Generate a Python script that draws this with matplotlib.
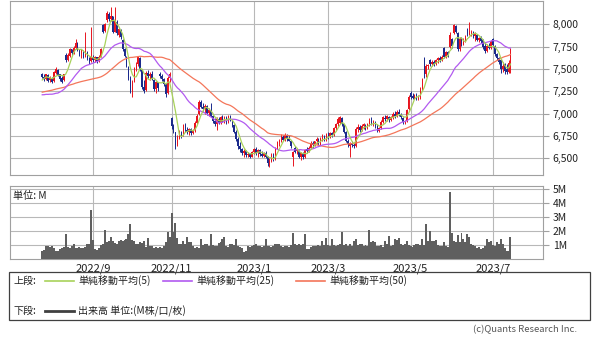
import matplotlib
matplotlib.use('Agg')
import matplotlib.pyplot as plt
import numpy as np
import pandas as pd
from matplotlib.patches import Rectangle

plt.rcParams['font.family'] = ['Noto Sans CJK JP', 'DejaVu Sans']

# trading calendar (TSE holidays in the period)
holidays = ['2022-08-11', '2022-09-19', '2022-09-23', '2022-10-10', '2022-11-03',
            '2022-11-23', '2023-01-02', '2023-01-03', '2023-01-09', '2023-02-23',
            '2023-03-21', '2023-05-03', '2023-05-04', '2023-05-05']
tick_months = [(2022, 9), (2022, 11), (2023, 1), (2023, 3), (2023, 5), (2023, 7)]

# closes before the visible window, only used so the moving averages start where they do
warmup_close = [
    7150, 7180, 7160, 7200, 7170, 7140, 7190, 7160, 7180, 7150, 7200, 7170, 7160,
    7350, 7380, 7400, 7370, 7390, 7360, 7410, 7380, 7370, 7400, 7390, 7360,
    7370, 7340, 7380, 7350, 7360, 7370, 7340, 7370,
    7100, 7060, 7020, 7040, 7000, 7030, 7060, 7020, 7050, 7070, 7040, 7050,
    7300, 7350, 7400, 7430,
]

opens = [
    7440, 7410, 7390, 7430, 7380, 7400, 7370, 7460, 7490, 7440,
    7400, 7380, 7660, 7600, 7650, 7720, 7690, 7740, 7790, 7710,
    7670, 7700, 7640, 7690, 7620, 7590, 7640, 7600, 7630, 7590,
    7640, 7990, 7930, 8050, 8120, 8060, 8090, 7920, 8030, 7880,
    7940, 7830, 7720, 7630, 7520, 7400, 7240, 7360, 7500, 7560,
    7620, 7490, 7300, 7270, 7460, 7420, 7450, 7380, 7280, 7350,
    7450, 7420, 7390, 7330, 7230, 7400, 6950, 6860, 6790, 6660,
    6740, 6790, 6760, 6870, 6820, 6790, 6830, 6780, 6820, 6900,
    7000, 7130, 7080, 7050, 7090, 7010, 7040, 6980, 6920, 6880,
    6940, 6900, 6960, 6930, 6950, 6910, 6970, 6930, 6870, 6800,
    6720, 6640, 6600, 6560, 6580, 6540, 6550, 6520, 6570, 6600,
    6560, 6590, 6550, 6530, 6560, 6520, 6450, 6470, 6540, 6490,
    6610, 6680, 6700, 6740, 6710, 6760, 6720, 6700, 6510, 6620,
    6580, 6580, 6520, 6550, 6510, 6600, 6580, 6620, 6670, 6650,
    6690, 6720, 6660, 6720, 6750, 6710, 6760, 6740, 6780, 6760,
    6840, 6880, 6900, 6950, 6880, 6800, 6700, 6640, 6670, 6650,
    6640, 6830, 6850, 6820, 6860, 6870, 6840, 6880, 6920, 6890,
    6910, 6860, 6810, 6840, 6910, 6950, 6940, 6960, 6930, 6960,
    7000, 6970, 7020, 7000, 6950, 6910, 6920, 7050, 7230, 7200,
    7180, 7210, 7170, 7200, 7280, 7620, 7440, 7530, 7600, 7560,
    7580, 7560, 7600, 7620, 7600, 7740, 7640, 7690, 7750, 7840,
    7900, 7980, 7900, 7720, 7840, 7780, 7830, 7950, 7890, 7880,
    7920, 7870, 7880, 7830, 7850, 7830, 7760, 7700, 7760, 7740,
    7840, 7760, 7670, 7620, 7600, 7500, 7560, 7500, 7470, 7570,
]
highs = [
    7460, 7440, 7450, 7440, 7420, 7410, 7480, 7520, 7500, 7450,
    7420, 7450, 7680, 7680, 7740, 7730, 7760, 7840, 7800, 7730,
    7720, 7710, 7910, 7700, 7640, 7970, 7660, 7650, 7640, 7660,
    7740, 8010, 8020, 8150, 8140, 8190, 8100, 8190, 8050, 7970,
    7950, 7840, 7740, 7650, 7540, 7420, 7380, 7520, 7580, 7650,
    7630, 7500, 7380, 7480, 7490, 7470, 7480, 7390, 7370, 7360,
    7470, 7440, 7400, 7340, 7420, 7470, 6960, 6880, 6800, 6760,
    6820, 6810, 6880, 6900, 6850, 6840, 6840, 6830, 6920, 7000,
    7150, 7150, 7120, 7110, 7100, 7060, 7120, 6990, 6950, 6960,
    6960, 6980, 6990, 6970, 6970, 6990, 6990, 6940, 6880, 6820,
    6740, 6680, 6620, 6600, 6590, 6570, 6560, 6580, 6620, 6630,
    6600, 6610, 6580, 6570, 6580, 6530, 6500, 6560, 6560, 6630,
    6700, 6720, 6770, 6760, 6780, 6770, 6760, 6710, 6580, 6640,
    6620, 6590, 6570, 6570, 6600, 6630, 6640, 6690, 6690, 6700,
    6740, 6730, 6740, 6770, 6760, 6780, 6800, 6790, 6800, 6850,
    6900, 6960, 6980, 6960, 6890, 6810, 6720, 6680, 6690, 6670,
    6850, 6880, 6870, 6880, 6900, 6890, 6900, 6950, 6960, 6930,
    6920, 6880, 6850, 6930, 6980, 6990, 6990, 6980, 6980, 7020,
    7030, 7040, 7050, 7010, 6960, 6930, 7050, 7210, 7250, 7230,
    7220, 7230, 7210, 7300, 7400, 7640, 7560, 7560, 7610, 7600,
    7600, 7610, 7630, 7650, 7660, 7750, 7700, 7700, 7910, 7850,
    8010, 7990, 7910, 7860, 7860, 7850, 7880, 7960, 8030, 7940,
    7930, 7910, 7890, 7860, 7870, 7840, 7800, 7780, 7790, 7830,
    7850, 7770, 7680, 7640, 7610, 7580, 7570, 7560, 7600, 7740,
]
lows = [
    7400, 7370, 7380, 7360, 7350, 7340, 7360, 7440, 7420, 7370,
    7340, 7370, 7580, 7590, 7640, 7660, 7670, 7720, 7700, 7650,
    7620, 7620, 7630, 7600, 7560, 7580, 7580, 7580, 7570, 7580,
    7630, 7900, 7910, 8030, 8040, 8040, 7900, 7910, 7880, 7860,
    7840, 7700, 7630, 7520, 7380, 7230, 7190, 7350, 7480, 7540,
    7480, 7280, 7230, 7260, 7400, 7380, 7380, 7250, 7230, 7260,
    7400, 7370, 7310, 7190, 7220, 7360, 6830, 6780, 6610, 6640,
    6720, 6730, 6750, 6800, 6770, 6760, 6760, 6770, 6800, 6890,
    6990, 7060, 7030, 7000, 6990, 6980, 6960, 6900, 6860, 6820,
    6880, 6890, 6910, 6900, 6890, 6900, 6920, 6850, 6780, 6700,
    6600, 6570, 6540, 6520, 6520, 6510, 6500, 6510, 6550, 6540,
    6520, 6530, 6510, 6510, 6500, 6420, 6400, 6460, 6470, 6480,
    6600, 6640, 6680, 6690, 6700, 6700, 6690, 6620, 6410, 6560,
    6550, 6500, 6480, 6490, 6500, 6560, 6570, 6610, 6620, 6640,
    6660, 6640, 6650, 6700, 6690, 6700, 6720, 6730, 6740, 6750,
    6820, 6860, 6890, 6860, 6780, 6680, 6630, 6510, 6630, 6620,
    6630, 6800, 6800, 6810, 6830, 6820, 6830, 6860, 6870, 6860,
    6840, 6790, 6790, 6830, 6900, 6920, 6920, 6910, 6920, 6940,
    6950, 6960, 6980, 6940, 6890, 6890, 6910, 7040, 7170, 7160,
    7160, 7150, 7150, 7160, 7270, 7400, 7410, 7500, 7540, 7540,
    7540, 7550, 7570, 7580, 7590, 7620, 7620, 7640, 7740, 7740,
    7890, 7900, 7700, 7700, 7760, 7770, 7800, 7870, 7880, 7870,
    7850, 7820, 7810, 7800, 7790, 7730, 7680, 7690, 7720, 7730,
    7750, 7650, 7600, 7560, 7460, 7470, 7450, 7450, 7460, 7460,
]
closes = [
    7410, 7390, 7440, 7370, 7400, 7360, 7470, 7500, 7430, 7390,
    7360, 7440, 7600, 7660, 7720, 7680, 7740, 7790, 7710, 7670,
    7700, 7640, 7690, 7620, 7580, 7640, 7600, 7630, 7590, 7640,
    7720, 7920, 8000, 8130, 8060, 8100, 7920, 8040, 7900, 7950,
    7860, 7720, 7650, 7540, 7400, 7260, 7350, 7500, 7560, 7630,
    7500, 7300, 7260, 7460, 7420, 7450, 7390, 7280, 7350, 7290,
    7420, 7390, 7330, 7220, 7400, 7440, 6860, 6800, 6650, 6740,
    6780, 6750, 6870, 6820, 6790, 6830, 6780, 6820, 6900, 6980,
    7130, 7080, 7050, 7090, 7010, 7040, 6980, 6920, 6880, 6940,
    6900, 6960, 6930, 6950, 6910, 6970, 6940, 6870, 6800, 6720,
    6640, 6600, 6560, 6580, 6540, 6550, 6520, 6570, 6600, 6560,
    6590, 6550, 6530, 6560, 6520, 6450, 6470, 6540, 6490, 6610,
    6680, 6700, 6740, 6710, 6760, 6720, 6700, 6640, 6570, 6570,
    6600, 6520, 6560, 6510, 6590, 6580, 6620, 6670, 6650, 6690,
    6720, 6660, 6720, 6750, 6710, 6760, 6740, 6780, 6760, 6840,
    6880, 6940, 6960, 6880, 6800, 6700, 6660, 6670, 6650, 6640,
    6830, 6850, 6820, 6860, 6880, 6840, 6880, 6920, 6890, 6910,
    6860, 6810, 6840, 6910, 6960, 6940, 6970, 6930, 6960, 7000,
    6970, 7020, 7000, 6960, 6910, 6920, 7040, 7190, 7190, 7180,
    7210, 7170, 7200, 7280, 7390, 7440, 7530, 7550, 7560, 7580,
    7560, 7600, 7620, 7600, 7640, 7640, 7690, 7660, 7880, 7760,
    7990, 7920, 7720, 7840, 7780, 7830, 7860, 7890, 7930, 7920,
    7870, 7900, 7830, 7850, 7810, 7750, 7700, 7760, 7740, 7810,
    7770, 7670, 7620, 7580, 7500, 7540, 7480, 7470, 7570, 7720,
]
# volume in millions of shares
volume = [
    0.6, 0.65, 0.9, 0.95, 0.85, 0.9, 0.75, 0.6, 0.6, 0.7,
    0.8, 0.85, 1.75, 0.85, 0.8, 0.9, 1.1, 0.8, 0.8, 0.85,
    0.8, 0.8, 0.85, 1.1, 1.05, 3.5, 1.35, 0.7, 0.65, 0.75,
    1.0, 1.05, 2.1, 1.2, 1.25, 1.6, 1.3, 1.15, 1.1, 1.3,
    1.35, 1.3, 1.35, 1.4, 1.8, 2.5, 1.35, 1.3, 1.1, 1.05,
    1.2, 1.15, 1.25, 0.85, 1.5, 0.9, 0.95, 0.8, 0.85, 0.75,
    0.85, 0.8, 0.9, 1.2, 1.9, 1.6, 3.3, 1.9, 2.6, 1.5,
    1.1, 1.05, 1.3, 1.1, 1.6, 1.2, 1.2, 0.9, 0.8, 0.85,
    0.75, 1.4, 1.0, 1.05, 1.1, 0.95, 1.75, 1.0, 0.95, 0.9,
    1.15, 1.2, 1.45, 1.55, 0.95, 0.85, 1.05, 1.1, 1.0, 1.4,
    0.9, 0.85, 0.8, 0.5, 0.55, 0.9, 0.85, 0.95, 1.0, 1.1,
    0.9, 0.95, 0.85, 0.9, 1.45, 0.95, 0.9, 0.85, 0.95, 1.05,
    1.1, 1.05, 0.9, 0.85, 0.95, 0.9, 0.85, 1.0, 1.85, 1.1,
    1.0, 1.05, 1.0, 1.1, 1.8, 0.7, 0.7, 0.85, 0.9, 0.95,
    0.9, 1.0, 0.95, 1.3, 1.0, 1.5, 1.0, 0.95, 1.4, 1.0,
    0.9, 1.0, 1.05, 1.9, 1.0, 1.05, 0.95, 1.1, 0.9, 1.3,
    1.45, 1.0, 1.05, 1.1, 0.95, 1.0, 0.9, 2.1, 1.2, 1.25,
    1.2, 0.95, 0.9, 1.0, 0.85, 1.3, 1.1, 1.65, 0.95, 1.0,
    1.4, 1.35, 1.5, 1.1, 1.0, 1.05, 1.3, 1.0, 0.9, 0.85,
    1.0, 1.1, 1.05, 1.0, 1.45, 1.0, 2.5, 1.3, 2.0, 1.3,
    1.25, 1.35, 1.0, 0.95, 0.9, 1.2, 0.9, 0.85, 4.8, 1.85,
    1.3, 1.2, 1.7, 1.2, 1.85, 1.4, 1.2, 1.75, 1.55, 1.1,
    1.0, 0.9, 0.8, 0.85, 0.7, 0.75, 0.9, 1.4, 1.2, 1.3,
    1.0, 0.95, 1.2, 1.1, 1.45, 1.1, 0.75, 0.6, 0.6, 1.6,
]

price_ticks = [6500, 6750, 7000, 7250, 7500, 7750, 8000]
volume_ticks = [1, 2, 3, 4, 5]

UP = '#e8141e'
DOWN = '#1a2a8c'
GRID = '#b8b8b8'
FRAME = '#a0a0a0'


def main():
    dates = pd.bdate_range('2022-07-26', '2023-07-14', freq='C', holidays=holidays)
    n = len(closes)
    assert len(opens) == len(highs) == len(lows) == len(volume) == n == len(dates)
    x = np.arange(n)

    o, h, l, c = (np.array(a, dtype=float) for a in (opens, highs, lows, closes))
    full = pd.Series(warmup_close + closes, dtype=float)
    ma = {w: full.rolling(w).mean().values[-n:] for w in (5, 25, 50)}

    month_idx = []
    for y, m in tick_months:
        month_idx.append(int(np.argmax((dates.year == y) & (dates.month == m))))
    month_lbl = [f'{y}/{m}' for y, m in tick_months]

    fig = plt.figure(figsize=(6.0, 3.41), dpi=100)
    W, H = 600.0, 341.0
    left, right = 9.5, 543.0
    ax = fig.add_axes([left / W, 1 - 175 / H, (right - left) / W, 174.5 / H])
    axv = fig.add_axes([left / W, 1 - 259 / H, (right - left) / W, 73 / H])
    xlim = (-16.7, 255.6)

    # --- price panel
    up = c >= o
    for mask, col in ((up, UP), (~up, DOWN)):
        ax.vlines(x[mask], l[mask], h[mask], color=col, lw=0.7, zorder=3)
        ax.bar(x[mask], np.maximum(np.abs(c[mask] - o[mask]), 6),
               bottom=np.minimum(o[mask], c[mask]), width=0.75,
               color=col, linewidth=0, zorder=3)
    ax.plot(x, ma[50], color='#f4765a', lw=0.9, zorder=4)
    ax.plot(x, ma[25], color='#b25af0', lw=0.9, zorder=4)
    ax.plot(x, ma[5], color='#a8d25a', lw=0.9, zorder=4)

    ax.set_xlim(*xlim)
    ax.set_ylim(6314, 8268)
    ax.set_yticks(price_ticks)
    ax.set_yticklabels([f'{v:,}' for v in price_ticks])
    ax.set_xticks(month_idx)
    ax.set_xticklabels([])

    # --- volume panel
    axv.bar(x, volume, width=1.0, color='#5f5f5f', linewidth=0, zorder=3)
    axv.set_xlim(*xlim)
    axv.set_ylim(0, 5.2)
    axv.set_yticks(volume_ticks)
    axv.set_yticklabels([f'{v}M' for v in volume_ticks])
    axv.set_xticks(month_idx)
    axv.set_xticklabels(month_lbl, fontsize=8, color='#222222')
    axv.text(0.007, 0.93, '単位: M', transform=axv.transAxes, ha='left', va='top',
             fontsize=7.3, color='#222222')

    for a in (ax, axv):
        a.yaxis.tick_right()
        a.grid(True, color=GRID, lw=0.8, zorder=0)
        a.set_axisbelow(True)
        for s in a.spines.values():
            s.set_color(FRAME)
            s.set_linewidth(0.8)
        a.tick_params(axis='y', length=4, width=0.8, color=FRAME, pad=3,
                      labelsize=7.5, labelcolor='#222222')
        a.tick_params(axis='x', length=0, pad=3)

    # --- legend box and credit, in pixel coordinates
    ov = fig.add_axes([0, 0, 1, 1])
    ov.set_xlim(0, W)
    ov.set_ylim(H, 0)
    ov.axis('off')
    ov.add_patch(Rectangle((9, 272), 581, 48, fill=False, ec='#404040', lw=0.9))
    fs = 7.2
    ov.text(14, 281, '上段:', fontsize=fs, va='center', color='#222222')
    items = [(45, '#a8d25a', '単純移動平均(5)'),
             (163, '#b25af0', '単純移動平均(25)'),
             (296, '#f4765a', '単純移動平均(50)')]
    for x0, col, label in items:
        ov.plot([x0, x0 + 29], [281, 281], color=col, lw=1.2)
        ov.text(x0 + 33, 281, label, fontsize=fs, va='center', color='#222222')
    ov.text(14, 311, '下段:', fontsize=fs, va='center', color='#222222')
    ov.plot([45, 74], [311, 311], color='#404040', lw=2)
    ov.text(78, 311, '出来高 単位:(M株/口/枚)', fontsize=fs, va='center', color='#222222')
    ov.text(577, 330, '(c)Quants Research Inc.', fontsize=6.8, ha='right', va='center',
            color='#555555')

    fig.savefig('out.png', dpi=100)


if __name__ == '__main__':
    main()
